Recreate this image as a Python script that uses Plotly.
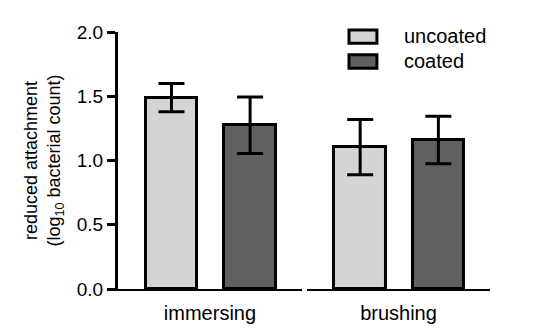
import plotly.graph_objects as go

groups = ["immersing", "brushing"]
series = ["uncoated", "coated"]
means = {
    "uncoated": [1.49, 1.105],
    "coated": [1.275, 1.16],
}
errors = {
    "uncoated": [0.11, 0.215],
    "coated": [0.22, 0.185],
}
colors = {"uncoated": "#d4d4d4", "coated": "#606060"}

FONT = "Arial, Liberation Sans, sans-serif"

fig = go.Figure()

axis_names = ["x", "x2"]
for g, group in enumerate(groups):
    for i, name in enumerate(series):
        fig.add_trace(go.Bar(
            x=[i],
            y=[means[name][g]],
            name=name,
            xaxis=axis_names[g],
            yaxis="y",
            width=0.66,
            marker=dict(color=colors[name], line=dict(color="black", width=3)),
            error_y=dict(type="data", array=[errors[name][g]], visible=True,
                         color="black", thickness=3, width=13),
            showlegend=False,
        ))

# hand-made legend: wide keys like the original
for i, name in enumerate(series):
    y_top = 1.008 - i * 0.097
    fig.add_shape(type="rect", xref="paper", yref="paper",
                  x0=0.621, x1=0.696, y0=y_top - 0.052, y1=y_top,
                  fillcolor=colors[name], line=dict(color="black", width=3))
    fig.add_annotation(text=name, xref="paper", yref="paper",
                       x=0.763, y=y_top - 0.024, xanchor="left", yanchor="middle",
                       showarrow=False,
                       font=dict(family=FONT, size=20, color="black"))

xcommon = dict(
    showgrid=False, zeroline=False, showticklabels=False, ticks="",
    showline=True, linecolor="black", linewidth=2,
    range=[-0.68, 1.66], fixedrange=True,
    title_font=dict(family=FONT, size=20, color="black"),
    title_standoff=16,
)

fig.update_layout(
    width=540, height=335,
    margin=dict(l=110, r=58, t=24, b=54),
    plot_bgcolor="white", paper_bgcolor="white",
    font=dict(family=FONT, color="black"),
    xaxis=dict(domain=[0, 0.4946], anchor="y", title_text=groups[0], **xcommon),
    xaxis2=dict(domain=[0.508, 1], anchor="y", title_text=groups[1], **xcommon),
    yaxis=dict(
        range=[0, 2], dtick=0.5, tickformat=".1f",
        showgrid=False, zeroline=False,
        showline=True, linecolor="black", linewidth=3,
        ticks="outside", ticklen=8, tickwidth=3, tickcolor="black",
        tickfont=dict(family=FONT, size=19, color="black"),
        title=dict(text="reduced attachment<br>(log<sub>10</sub> bacterial count)",
                   font=dict(family=FONT, size=18, color="black"), standoff=12),
    ),
    showlegend=False,
    bargap=0,
)

fig.write_html("out.html")
